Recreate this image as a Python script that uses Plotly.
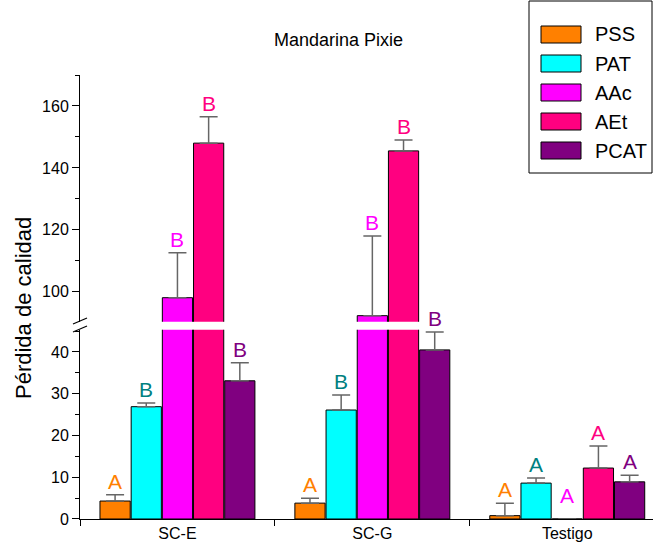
import plotly.graph_objects as go

categories = ["SC-E", "SC-G", "Testigo"]
series = ["PSS", "PAT", "AAc", "AEt", "PCAT"]
colors = ["#FF8000", "#00FFFF", "#FF00FF", "#FF0080", "#800080"]
letter_colors = ["#FF8000", "#008080", "#FF00FF", "#FF0080", "#800080"]

values = {
    "PSS":  [4.3, 3.8, 0.8],
    "PAT":  [26.9, 26.1, 8.6],
    "AAc":  [98.1, 92.3, 0.0],
    "AEt":  [148.0, 145.5, 12.2],
    "PCAT": [33.1, 40.5, 8.9],
}
errors = {
    "PSS":  [1.5, 1.2, 3.0],
    "PAT":  [0.9, 3.6, 1.2],
    "AAc":  [14.5, 25.7, 0.0],
    "AEt":  [8.5, 3.5, 5.3],
    "PCAT": [4.3, 4.3, 1.6],
}
letters = {
    "PSS":  ["A", "A", "A"],
    "PAT":  ["B", "B", "A"],
    "AAc":  ["B", "B", "A"],
    "AEt":  ["B", "B", "A"],
    "PCAT": ["B", "B", "A"],
}

W, H = 653, 544
ML, MR, MT, MB = 80, 0, 75, 25
PW, PH = W - ML - MR, H - MT - MB
LOW_MAX = 45.3
UP_MIN, UP_MAX = 90.3, 170
FONT = "Liberation Sans, Arial, sans-serif"

slot = 0.16
bw = 0.155

def px_x(p):
    return (p - ML) / PW

def px_y(p):
    return (H - MB - p) / PH

fig = go.Figure()
annotations = []
shapes = []

for j, s in enumerate(series):
    xs = [i + (j - 2) * slot for i in range(len(categories))]
    for yax in ["y", "y2"]:
        fig.add_trace(go.Bar(
            x=xs, y=values[s], width=bw, yaxis=yax, xaxis="x",
            marker=dict(color=colors[j], line=dict(color="black", width=1)),
            error_y=dict(type="data", symmetric=False, array=errors[s],
                         arrayminus=[0] * len(categories),
                         color="#666666", thickness=1.5, width=9),
            showlegend=False, name=s,
        ))
    for i in range(len(categories)):
        top = max(values[s][i] + errors[s][i], 2.5)
        annotations.append(dict(
            x=xs[i], y=top, xref="x", yref="y" if top <= LOW_MAX else "y2",
            text=letters[s][i], showarrow=False, xanchor="center",
            yanchor="bottom", yshift=0,
            font=dict(family=FONT, size=21, color=letter_colors[j]),
        ))

# custom legend
shapes.append(dict(type="rect", xref="paper", yref="paper",
                   x0=px_x(529), x1=px_x(652), y0=px_y(173), y1=px_y(1),
                   line=dict(color="black", width=1), fillcolor="white"))
for j, s in enumerate(series):
    cy = 34.5 + j * 29
    shapes.append(dict(type="rect", xref="paper", yref="paper",
                       x0=px_x(541), x1=px_x(581), y0=px_y(cy + 8.5), y1=px_y(cy - 8.5),
                       line=dict(color="black", width=1), fillcolor=colors[j]))
    annotations.append(dict(x=px_x(593), y=px_y(cy), xref="paper", yref="paper",
                            text=s, showarrow=False, xanchor="left", yanchor="middle",
                            font=dict(family=FONT, size=20, color="black")))

# axis break marks
for yy in [321, 329]:
    shapes.append(dict(type="line", xref="paper", yref="paper",
                       x0=px_x(73), x1=px_x(87), y0=px_y(yy + 3), y1=px_y(yy - 3),
                       line=dict(color="black", width=1.2)))

# title
annotations.append(dict(x=px_x(338), y=px_y(40), xref="paper", yref="paper",
                        text="Mandarina Pixie", showarrow=False,
                        xanchor="center", yanchor="middle",
                        font=dict(family=FONT, size=18, color="black")))
# y title
annotations.append(dict(x=px_x(23), y=px_y(308), xref="paper", yref="paper",
                        text="Pérdida de calidad", showarrow=False, textangle=-90,
                        xanchor="center", yanchor="middle",
                        font=dict(family=FONT, size=22, color="black")))

fig.update_layout(
    width=W, height=H, margin=dict(l=ML, r=MR, t=MT, b=MB),
    plot_bgcolor="white", paper_bgcolor="white", barmode="overlay",
    showlegend=False,
    font=dict(family=FONT, size=16, color="black"),
    xaxis=dict(range=[-0.5, 2.44], tickvals=[0, 1, 2], ticktext=categories,
               ticks="", showgrid=False, zeroline=False, showline=True,
               linecolor="black", linewidth=1, anchor="y",
               tickfont=dict(size=16),
               minor=dict(tickmode="array", tickvals=[-0.5, 0.5, 1.5, 2.5],
                          ticks="outside", ticklen=6, tickcolor="black", showgrid=False)),
    yaxis=dict(domain=[0, 0.426], range=[0, LOW_MAX], tickvals=[0, 10, 20, 30, 40],
               ticks="outside", ticklen=7, tickcolor="black", showgrid=False,
               zeroline=False, showline=True, linecolor="black", linewidth=1,
               tickfont=dict(size=16),
               minor=dict(tick0=0, dtick=5, ticks="outside", ticklen=4,
                          tickcolor="black", showgrid=False)),
    yaxis2=dict(domain=[0.444, 1], range=[UP_MIN, UP_MAX], tickvals=[100, 120, 140, 160],
                ticks="outside", ticklen=7, tickcolor="black", showgrid=False,
                zeroline=False, showline=True, linecolor="black", linewidth=1,
                anchor="x", tickfont=dict(size=16),
                minor=dict(tick0=0, dtick=10, ticks="outside", ticklen=4,
                           tickcolor="black", showgrid=False)),
    annotations=annotations, shapes=shapes,
)

fig.write_html("out.html")
